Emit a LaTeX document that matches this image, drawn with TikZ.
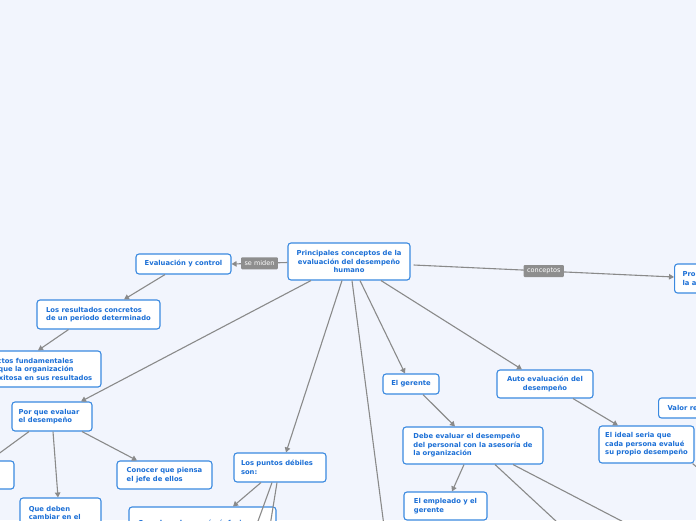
\documentclass[tikz,border=0pt]{standalone}
\usepackage{fontspec}
\setmainfont{DejaVu Sans}
\usetikzlibrary{arrows.meta}
\definecolor{bgc}{HTML}{F2F5FD}
\definecolor{bord}{HTML}{3A89E0}
\definecolor{txt}{HTML}{1B6FD6}
\definecolor{lin}{HTML}{8A8A8A}
\definecolor{lblc}{HTML}{8E8E8E}
\tikzset{
  box/.style={draw=bord, line width=1.1pt, fill=white, rounded corners=3pt,
    text=txt, font=\fontsize{6.8}{8.5}\selectfont\bfseries,
    inner xsep=8pt, inner ysep=0pt, align=left},
  arr/.style={draw=lin, line width=1.1pt, -{Triangle[length=5pt,width=5.5pt]}},
  plain/.style={draw=lin, line width=1.1pt},
  lbl/.style={fill=lblc, text=white, font=\fontsize{6.5}{7.5}\selectfont,
    rounded corners=1pt, inner xsep=3.5pt, inner ysep=0pt, minimum height=12pt}
}
\begin{document}
\begin{tikzpicture}[x=1pt,y=-1pt]
\useasboundingbox (0,0) rectangle (696,520);
\fill[bgc] (0,0) rectangle (696,520);
\clip (0,0) rectangle (696,520);

% nodes
\node[box, align=center, minimum width=122pt, minimum height=37pt, inner xsep=4pt] (main) at (349,261.5)
  {Principales conceptos de la\\evaluación del desempeño\\humano};
\node[box, align=center, minimum width=95pt, minimum height=20pt, inner xsep=4pt] (evc) at (183.5,264)
  {Evaluación y control};
\node[box, minimum width=123pt, minimum height=29pt, inner xsep=4pt] (res) at (98.5,314.5)
  {Los resultados concretos\\de un periodo determinado};
\node[box, minimum width=131pt, minimum height=36pt, inner xsep=4pt] (asp) at (35.5,369)
  {Aspectos fundamentales\\para que la organización\\sea exitosa en sus resultados};
\node[box, minimum width=80pt, minimum height=29pt, inner xsep=4pt] (por) at (52,416.5)
  {Por que evaluar\hspace*{6pt}\\el desempeño};
\node[box, minimum width=80pt, minimum height=28pt, inner xsep=4pt] (mej) at (-26,475)
  {Mejorar\\su trabajo};
\node[box, minimum width=81pt, minimum height=40pt, inner xsep=4pt] (que) at (60.5,518)
  {Que deben\hspace*{22pt}\\cambiar en el\\trabajo};
\node[box, minimum width=95pt, minimum height=28pt, inner xsep=4pt] (con) at (164.5,475)
  {Conocer que piensa\\el jefe de ellos};
\node[box, minimum width=92pt, minimum height=29pt, inner xsep=4pt] (pun) at (280,467.5)
  {Los puntos débiles\hspace*{6pt}\\son:};
\node[box, minimum width=147pt, minimum height=40pt, inner xsep=9pt, text width=129pt] (cua) at (202.5,527)
  {Cuando se hace más énfasis\\en los resultados};
\node[box, align=center, minimum width=56pt, minimum height=20pt, inner xsep=4pt] (ger) at (411,384)
  {El gerente};
\node[box, align=center, minimum width=96pt, minimum height=28pt, inner xsep=4pt] (aut) at (545,384)
  {Auto evaluación del\\desempeño};
\node[box, minimum width=140pt, minimum height=37pt, inner xsep=4pt] (deb) at (473,445.5)
  {Debe evaluar el desempeño\\del personal con la asesoría de\\la organización};
\node[box, minimum width=83pt, minimum height=28pt, inner xsep=4pt] (emp) at (445.5,506)
  {El empleado y el\\gerente};
\node[box, minimum width=95pt, minimum height=37pt, inner xsep=4pt] (ide) at (646.5,444.5)
  {El ideal seria que\\cada persona evalué\\su propio desempeño};
\node[box, anchor=west, minimum height=20pt, inner xsep=9pt] (val) at (658,408)
  {Valor real};
\node[box, anchor=west, minimum height=29pt, inner xsep=8pt] (pro) at (674,278.5)
  {Propósitos de\\la autoevaluación};

% hidden ends
\coordinate (h1) at (390,572);
\coordinate (h2) at (245,557);
\coordinate (h3) at (265,557);
\coordinate (h4) at (585,548);
\coordinate (h5) at (660,541);
\coordinate (h6) at (712,480);

% connectors
\draw[arr] ([yshift=-1pt]main.west) -- node[lbl]{se miden} (evc.east);
\draw[arr] ([xshift=3pt,yshift=-3.5pt]main.east) -- node[lbl]{conceptos} ([yshift=1.5pt]pro.west);
\draw[arr] ([xshift=-18.5pt]evc.south) -- ([xshift=25.5pt]res.north);
\draw[arr] ([xshift=-30pt]res.south) -- ([xshift=2.5pt]asp.north);
\draw[arr] ([xshift=-38pt]main.south) -- ([xshift=29pt]por.north);
\draw[arr] ([xshift=-23pt]por.south) -- ([xshift=15.5pt]mej.north);
\draw[arr] ([xshift=1pt]por.south) -- ([xshift=-2.5pt]que.north);
\draw[arr] ([xshift=30pt]por.south) -- ([xshift=-27.5pt]con.north);
\draw[arr] ([xshift=-7pt]main.south) -- ([xshift=6pt]pun.north);
\draw[plain] ([xshift=3pt]main.south) -- (h1);
\draw[arr] ([xshift=11pt]main.south) -- ([xshift=-6pt]ger.north);
\draw[arr] ([xshift=32pt]main.south) -- ([xshift=-23pt]aut.north);
\draw[arr] ([xshift=-19pt]pun.south) -- ([xshift=30.5pt]cua.north);
\draw[plain] ([xshift=-8pt]pun.south) -- (h2);
\draw[plain] ([xshift=-3pt]pun.south) -- (h3);
\draw[arr] ([xshift=12pt]ger.south) -- ([xshift=-18pt]deb.north);
\draw[arr] ([xshift=-9pt]deb.south) -- ([xshift=6.5pt]emp.north);
\draw[plain] ([xshift=22pt]deb.south) -- (h4);
\draw[plain] ([xshift=40pt]deb.south) -- (h5);
\draw[arr] ([xshift=28pt]aut.south) -- ([xshift=-28.5pt]ide.north);
\draw[plain] ([xshift=-2pt]ide.south east) -- (h6);
\end{tikzpicture}
\end{document}
